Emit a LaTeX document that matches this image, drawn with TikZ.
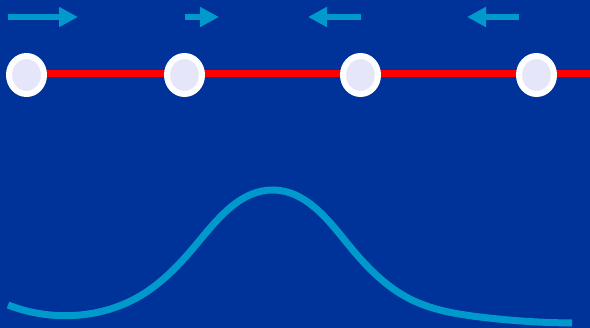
\documentclass[tikz,border=0pt]{standalone}
\usepackage{tikz}
\usetikzlibrary{shapes.geometric}
\usetikzlibrary{arrows.meta}
\usetikzlibrary{hobby}
\definecolor{deepblue}{HTML}{003399}
\definecolor{skyblue}{HTML}{0099CC}
\definecolor{paleviolet}{HTML}{E6E6FA}

\begin{document}
\begin{tikzpicture}[
x=1pt, y=-1pt,
bead/.style={ellipse, draw=white, fill=paleviolet, line width=6pt, minimum width=35pt, minimum height=38pt, inner sep=0},
flow/.style={skyblue, line width=6pt, -{Triangle[length=19pt, width=19pt]}},
string/.style={red, line width=7pt},
wave/.style={skyblue, line width=7pt}
]
\useasboundingbox (0,0) rectangle (590,328);
\fill[deepblue] (-1,-1) rectangle (591,329);
% velocity arrows
\foreach \s/\e [count=\i] in {8/78, 185/219, 361/308, 519/467} {
  \coordinate (f\i s) at (\s,17);
  \coordinate (f\i e) at (\e,17);
  \draw[flow] (f\i s) -- (f\i e);
}
% string with beads
\coordinate (left) at (26.5,74);
\coordinate (right) at (591,74);
\draw[string] (left) -- (right);
\foreach \x [count=\i] in {26.5, 184.5, 360.5, 536.5}
  \node [bead] (b\i) at (\x,75) {};
% pulse
\draw[wave, use Hobby shortcut] (8,305) .. (80,315) .. (140,296) .. (200,240) .. (273,190) .. (347,243) .. (410,299) .. (480,317) .. (572,323);
\end{tikzpicture}
\end{document}
